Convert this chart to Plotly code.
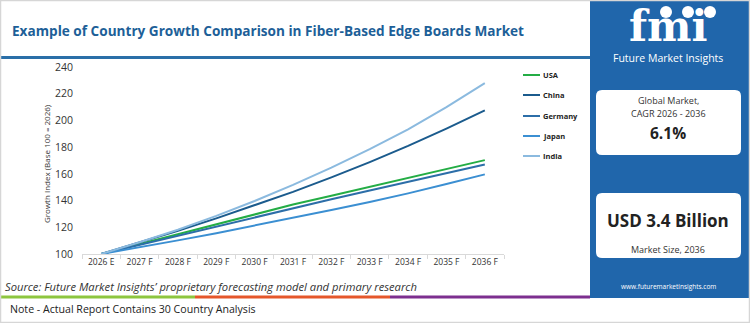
import plotly.graph_objects as go

years = ["2026 E", "2027 F", "2028 F", "2029 F", "2030 F", "2031 F",
         "2032 F", "2033 F", "2034 F", "2035 F", "2036 F"]
usa = [100, 107.4, 114.8, 122.2, 129.6, 137.0, 143.6, 150.2, 156.8, 163.5, 170.3]
china = [100, 108.5, 117.4, 126.7, 136.4, 146.5, 157.4, 168.8, 180.9, 193.9, 207.6]
germany = [100, 106.9, 113.8, 120.7, 127.6, 134.5, 141.0, 147.5, 154.0, 160.5, 167.0]
japan = [100, 105.0, 110.2, 115.6, 121.2, 127.0, 132.9, 139.0, 145.4, 152.4, 159.6]
india = [100, 108.8, 118.2, 128.5, 139.7, 151.8, 164.7, 178.5, 193.3, 210.0, 228.0]
y_ticks = [100, 120, 140, 160, 180, 200, 220, 240]

series_names = ["USA", "China", "Germany", "Japan", "India"]
series_vals = [usa, china, germany, japan, india]
colors = ["#24ad45", "#1b5b8d", "#2c6ea8", "#3b8fd2", "#8bbadf"]

W, H = 750, 323
ML, MR, MT, MB = 82, 246, 67, 69
PW = W - ML - MR
PH = H - MT - MB

fig = go.Figure()
for name, vals, c in zip(series_names, series_vals, colors):
    fig.add_trace(go.Scatter(x=years, y=vals, mode="lines", name=name,
                             line=dict(color=c, width=2), showlegend=False))

font_main = "Open Sans"


def px(x):
    return (x - ML) / PW


def py(y):
    return (H - MB - y) / PH


shapes = []
annotations = []


def text(t, x, y, size, color="#333333", anchor="center", family=font_main, **kw):
    annotations.append(dict(text=t, x=px(x), y=py(y), xref="paper", yref="paper",
                            xanchor=anchor, yanchor="middle", showarrow=False,
                            font=dict(family=family, size=size, color=color), **kw))


def line(x0, x1, y0, y1, color, width):
    shapes.append(dict(type="line", xref="paper", yref="paper", x0=px(x0), x1=px(x1),
                       y0=py(y0), y1=py(y1), line=dict(color=color, width=width)))


def rect(x0, x1, y0, y1, fill, layer="above", border=None):
    shapes.append(dict(type="rect", xref="paper", yref="paper", x0=px(x0), x1=px(x1),
                       y0=py(y1), y1=py(y0), fillcolor=fill, layer=layer,
                       line=dict(width=0) if border is None else border))


def rrect(x0, x1, y0, y1, r, fill):
    X0, X1, R = px(x0), px(x1), r / PW
    Y0, Y1, RY = py(y1), py(y0), r / PH
    path = (f"M {X0+R},{Y0} L {X1-R},{Y0} Q {X1},{Y0} {X1},{Y0+RY} L {X1},{Y1-RY} "
            f"Q {X1},{Y1} {X1-R},{Y1} L {X0+R},{Y1} Q {X0},{Y1} {X0},{Y1-RY} "
            f"L {X0},{Y0+RY} Q {X0},{Y0} {X0+R},{Y0} Z")
    shapes.append(dict(type="path", xref="paper", yref="paper", path=path,
                       fillcolor=fill, line=dict(width=0)))


# right panel background
rect(590, 750, 0, 298, "#2066ab", layer="below")

# title and underline
text("<b>Example of Country Growth Comparison in Fiber-Based Edge Boards Market</b>",
     10, 31, 13.6, color="#1d5f98", anchor="left")
line(0, 590, 57.5, 57.5, "#2a6fa8", 3)

# legend
leg_y = [75, 95, 116, 136, 156]
for name, c, ly in zip(series_names, colors, leg_y):
    line(523, 540, ly, ly, c, 2)
    text("<b>" + name + "</b>", 541, ly, 7.5, color="#222222", anchor="left")

# y axis title
text("Growth Index (Base 100 = 2026)", 46, 164, 8, textangle=-90)

# source & note
text("<i>Source: Future Market Insights’ proprietary forecasting model and primary research</i>",
     3, 286, 11.2, anchor="left")
for x0, x1, c in [(0, 195, "#8dc63f"), (195, 390, "#e5572b"), (390, 590, "#7d2f8f")]:
    line(x0, x1, 297, 297, c, 3)
text("Note - Actual Report Contains 30 Country Analysis", 8, 309, 10.6, color="#222222", anchor="left")

# cards
rrect(596, 741, 90, 155, 6, "white")
rrect(596, 741, 193, 258, 6, "white")

# logo
text("<b>fmi</b>", 668, 26, 42, color="white", family="DejaVu Serif")
for cx in [666, 688, 710]:
    shapes.append(dict(type="circle", xref="paper", yref="paper", x0=px(cx - 6), x1=px(cx + 6),
                       y0=py(18), y1=py(6), fillcolor="white", line=dict(width=0)))
text("Future Market Insights", 668, 58, 10.5, color="white")
text("Global Market,", 668, 100, 9)
text("CAGR 2026 - 2036", 668, 113, 9)
text("<b>6.1%</b>", 668, 133, 15.5, color="#222222")
text("<b>USD 3.4 Billion</b>", 668, 220, 17, color="#222222")
text("Market Size, 2036", 668, 249, 9)
text("www.futuremarketinsights.com", 668, 286, 6.5, color="white")

# outer border
rect(0.5, 749.5, 0.5, 322.5, "rgba(0,0,0,0)", border=dict(color="#d6d6d6", width=1.5))

fig.update_layout(
    width=W, height=H,
    margin=dict(l=ML, r=MR, t=MT, b=MB),
    paper_bgcolor="white", plot_bgcolor="white",
    font=dict(family=font_main, color="#333333"),
    shapes=shapes, annotations=annotations,
    xaxis=dict(type="category", showgrid=False, showline=True, linecolor="#d9d9d9", linewidth=1,
               ticks="outside", tickson="boundaries", ticklen=4, tickcolor="#d9d9d9",
               tickfont=dict(size=8.5, color="#333333"), range=[-0.5, 10.5], fixedrange=True),
    yaxis=dict(range=[100, 240], tickvals=y_ticks, showgrid=False, showline=False, zeroline=False,
               ticks="", ticklabelstandoff=8, tickfont=dict(size=10.5, color="#333333"), fixedrange=True),
)

fig.write_html("out.html")
